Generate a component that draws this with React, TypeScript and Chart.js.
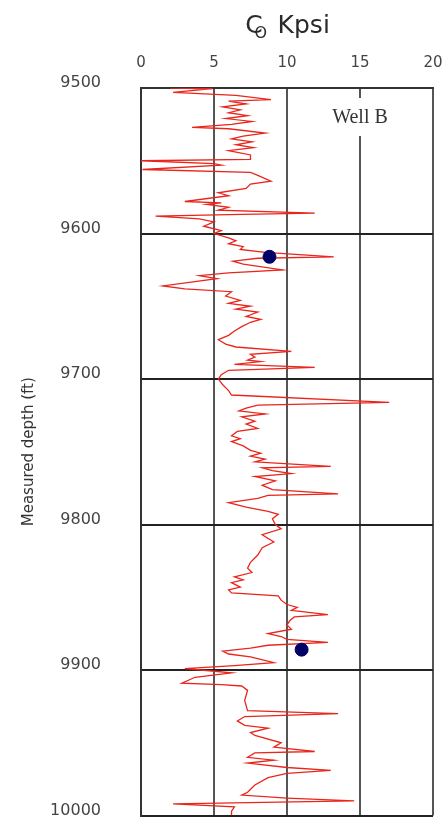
import React, { useEffect, useRef } from 'react';
import { Chart, registerables } from 'chart.js';

Chart.register(...registerables);

// Log curve: measured depth (ft) and Co (Kpsi)
const logDepth = [
  9500, 9500.5, 9503, 9505, 9508, 9509, 9511, 9513, 9515, 9517, 9519, 9521, 9523, 9525, 9527, 9528,
  9531, 9533, 9535, 9537, 9539, 9541, 9543, 9546, 9549, 9550, 9552, 9553, 9556, 9558, 9560, 9564,
  9566, 9569, 9572, 9574, 9578, 9579, 9580, 9582, 9584, 9586, 9587, 9588, 9590, 9592, 9595, 9598,
  9600, 9603, 9605, 9607, 9609, 9611, 9613, 9616, 9617, 9619, 9621, 9625, 9627, 9629, 9631, 9636,
  9638, 9640, 9643, 9646, 9648, 9650, 9652, 9654, 9657, 9659,
  9661, 9664, 9667, 9670, 9673, 9676, 9678, 9681, 9683, 9685, 9687, 9688, 9690, 9692, 9694, 9697,
  9700, 9704, 9708, 9711, 9716, 9718, 9720, 9722, 9724, 9726, 9729, 9731, 9734, 9736, 9739, 9741,
  9743, 9746, 9749, 9751, 9753, 9755, 9757, 9760, 9761, 9763, 9765, 9767, 9770, 9773, 9776, 9779,
  9780, 9782, 9785, 9788, 9791, 9793, 9796, 9800, 9803, 9807, 9812, 9816, 9821, 9826,
  9830, 9833, 9836, 9838, 9840, 9843, 9845, 9847, 9849, 9852, 9855, 9857, 9859, 9862, 9863.5, 9866,
  9869, 9872, 9875, 9877, 9879, 9881, 9883, 9885, 9887, 9889, 9891, 9895, 9897, 9899, 9900, 9902,
  9905, 9909, 9910, 9911, 9914, 9921, 9928, 9930, 9932, 9935, 9938, 9940, 9943, 9945, 9950, 9953,
  9956, 9957, 9960, 9962, 9964, 9967, 9969, 9971, 9974, 9979, 9984, 9986, 9988, 9990, 9992, 9994,
  9997, 10000,
];
const logCo = [
  2.0, 4.9, 2.2, 6.5, 8.9, 6.0, 7.2, 5.6, 6.8, 6.0, 7.3, 5.8, 7.6, 6.2, 3.5, 6.0,
  8.5, 7.0, 6.2, 7.6, 6.5, 7.7, 6.0, 7.5, 7.5, 0.0, 5.0, 5.5, 0.1, 7.5, 8.0, 8.9,
  7.5, 7.2, 5.3, 6.0, 3.0, 5.5, 4.5, 6.0, 5.3, 11.9, 6.0, 1.0, 4.0, 5.0, 4.3, 5.5,
  5.0, 6.0, 6.5, 6.0, 7.0, 6.8, 8.5, 13.2, 8.0, 6.3, 7.0, 9.7, 6.0, 4.0, 5.2, 1.5,
  3.0, 6.2, 5.8, 6.8, 6.0, 7.5, 6.5, 8.0, 7.2, 8.2,
  7.5, 6.9, 6.4, 6.0, 5.3, 5.8, 6.5, 10.3, 7.5, 7.8, 7.3, 8.2, 6.4, 11.9, 6.0, 5.5,
  5.3, 5.6, 6.0, 6.2, 17.0, 8.0, 7.2, 6.7, 8.5, 6.9, 7.8, 7.2, 8.0, 6.6, 6.2, 6.8,
  6.2, 7.0, 7.5, 8.2, 7.5, 8.5, 7.8, 13.0, 8.3, 9.0, 10.3, 7.8, 9.2, 8.3, 9.0, 13.5,
  8.7, 8.0, 6.0, 7.2, 8.7, 9.4, 9.0, 9.2, 9.6, 8.3, 9.1, 8.3, 8.0, 7.5,
  7.3, 7.6, 6.4, 7.0, 6.2, 6.8, 6.0, 6.2, 9.4, 9.6, 10.0, 10.7, 10.3, 12.8, 10.5, 10.2,
  10.0, 10.3, 8.7, 9.6, 10.0, 12.8, 8.7, 7.5, 5.6, 6.0, 7.5, 9.1, 6.4, 3.0, 4.1, 6.2,
  3.7, 2.8, 5.5, 6.9, 7.3, 7.1, 7.3, 13.5, 7.1, 6.6, 7.1, 8.7, 7.5, 7.8, 9.6, 9.1,
  11.9, 7.8, 7.3, 9.1, 7.3, 10.0, 13.0, 10.0, 8.7, 7.8, 7.3, 6.9, 10.0, 14.6, 2.2, 6.4,
  6.2, 6.2,
];

// Core measurements (blue dots)
const coreDepth = [9616, 9886];
const coreCo = [8.8, 11.0];

const xTitleMain = 'C';
const xTitleSub = 'O';
const xTitleUnit = 'Kpsi';
const yTitle = 'Measured depth (ft)';
const wellLabel = 'Well B';

const xMin = 0;
const xMax = 20;
const xStep = 5;
const yMin = 9500;
const yMax = 10000;
const yStep = 100;

export default function App() {
  const ref = useRef<HTMLCanvasElement>(null);

  useEffect(() => {
    if (!ref.current) return;

    const overlay = {
      id: 'overlayText',
      afterDraw(chart: any) {
        const ctx = chart.ctx;
        const a = chart.chartArea;
        ctx.save();
        // Title C_O Kpsi
        ctx.fillStyle = '#2a2a2a';
        ctx.textBaseline = 'alphabetic';
        ctx.textAlign = 'left';
        ctx.font = '25px "DejaVu Sans"';
        const wC = ctx.measureText(xTitleMain).width;
        const wK = ctx.measureText(xTitleUnit).width;
        const cx = (a.left + a.right) / 2;
        const cLeft = cx - (wC + 14 + wK) / 2;
        ctx.fillText(xTitleMain, cLeft, 33);
        ctx.fillText(xTitleUnit, cLeft + wC + 15, 33);
        ctx.font = '16px "DejaVu Sans"';
        ctx.fillText(xTitleSub, cLeft + wC - 8, 38);

        // Well B label with white backing
        ctx.font = '20px "Liberation Serif"';
        const wx = chart.scales.x.getPixelForValue(15);
        const tw = ctx.measureText(wellLabel).width;
        ctx.fillStyle = '#ffffff';
        ctx.fillRect(wx - tw / 2 - 4, a.top + 10, tw + 8, 38);
        ctx.fillStyle = '#333333';
        ctx.textAlign = 'center';
        ctx.textBaseline = 'middle';
        ctx.fillText(wellLabel, wx, a.top + 30);
        ctx.restore();
      },
    };

    const chart = new Chart(ref.current, {
      type: 'scatter',
      data: {
        datasets: [
          {
            label: 'core',
            data: coreDepth.map((d, i) => ({ x: coreCo[i], y: d })),
            backgroundColor: '#000066',
            borderColor: '#000066',
            pointRadius: 6.5,
            showLine: false,
          },
          {
            label: 'log',
            data: logDepth.map((d, i) => ({ x: logCo[i], y: d })),
            borderColor: 'rgb(232,38,28)',
            borderWidth: 1.3,
            pointRadius: 0,
            showLine: true,
            tension: 0,
            fill: false,
          },
        ],
      },
      options: {
        responsive: false,
        maintainAspectRatio: false,
        animation: false,
        layout: { padding: { left: 0, right: 10, top: 0, bottom: 5 } },
        plugins: {
          legend: { display: false },
          tooltip: { enabled: false },
          title: { display: false },
        },
        scales: {
          x: {
            type: 'linear',
            position: 'top',
            min: xMin,
            max: xMax,
            ticks: {
              stepSize: xStep,
              padding: 16,
              color: '#444',
              font: { family: '"DejaVu Sans"', size: 15 },
            },
            grid: {
              color: '#555',
              lineWidth: 2,
              drawTicks: false,
            },
            border: { display: true, color: '#333', width: 2 },
            afterFit: (scale: any) => {
              scale.height = 88;
              scale.paddingLeft = 0;
              scale.paddingRight = 0;
            },
          },
          y: {
            type: 'linear',
            reverse: true,
            min: yMin,
            max: yMax,
            ticks: {
              stepSize: yStep,
              padding: 40,
              labelOffset: -5,
              color: '#444',
              font: { family: '"DejaVu Sans"', size: 16 },
              callback: (v: any) => String(v),
            },
            grid: {
              color: '#222',
              lineWidth: 2,
              drawTicks: false,
            },
            border: { display: true, color: '#333', width: 2 },
            title: {
              display: true,
              text: yTitle,
              color: '#333',
              font: { family: '"DejaVu Sans"', size: 15 },
              padding: { top: 20, bottom: 0 },
            },
            afterFit: (scale: any) => {
              scale.width = 141;
              scale.paddingTop = 0;
              scale.paddingBottom = 0;
            },
          },
        },
      },
      plugins: [overlay],
    });

    return () => chart.destroy();
  }, []);

  return (
    <div style={{ position: 'absolute', left: 0, top: 0, width: 443, height: 823, background: '#fff' }}>
      <canvas ref={ref} width={443} height={823} style={{ display: 'block' }} />
    </div>
  );
}
